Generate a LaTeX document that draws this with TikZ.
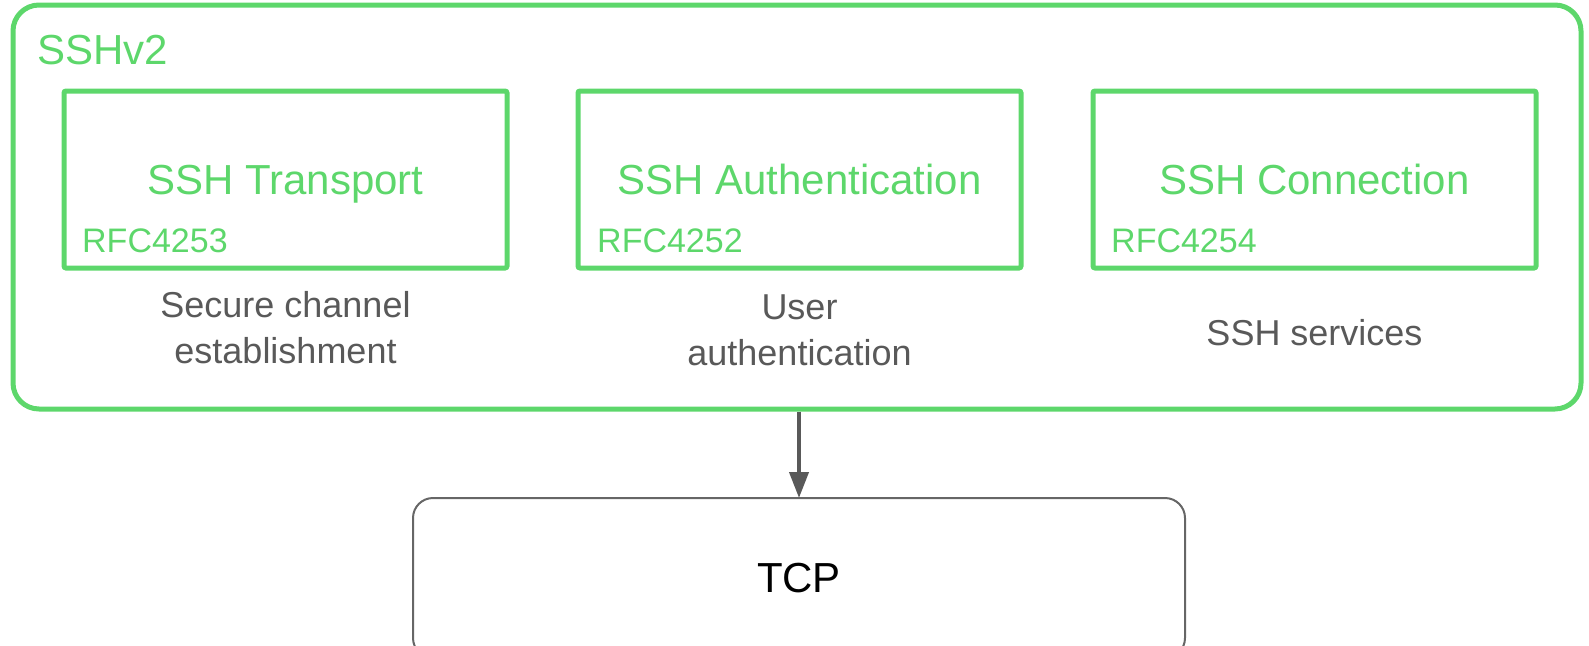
\documentclass[tikz,border=0pt]{standalone}
\usepackage{fontspec}
\setmainfont{Liberation Sans}
\usetikzlibrary{arrows.meta}
\definecolor{sshgreen}{RGB}{93,215,107}
\definecolor{labelgray}{RGB}{89,89,89}
\definecolor{edgegray}{RGB}{102,102,102}
\tikzset{
  outerbox/.style={draw=sshgreen, line width=5pt, rounded corners=26pt, inner sep=0pt, outer sep=0pt,
    minimum width=1568pt, minimum height=404pt, anchor=north west},
  layerbox/.style={draw=sshgreen, line width=5pt, rounded corners=2pt, inner sep=0pt, outer sep=0pt,
    minimum width=443pt, minimum height=177pt, anchor=north west},
  tcpbox/.style={draw=edgegray, line width=2pt, rounded corners=20pt, inner sep=0pt, outer sep=0pt,
    minimum width=772pt, minimum height=160pt, anchor=north west},
  titletext/.style={text=sshgreen, inner sep=0pt, font=\fontsize{42}{50}\selectfont},
  rfctext/.style={text=sshgreen, inner sep=0pt, anchor=base west, font=\fontsize{34}{40}\selectfont},
  desctext/.style={text=labelgray, inner sep=0pt, anchor=base, align=center,
    font=\fontsize{36}{46}\selectfont},
  linkarrow/.style={draw=labelgray, line width=4pt, -{Triangle[length=26pt,width=19pt]}},
}
\begin{document}
\begin{tikzpicture}[x=1pt,y=-1pt]
\useasboundingbox (0,0) rectangle (1589,645);

% SSHv2 container
\node[outerbox] (ssh) at (13,5) {};
\node[titletext, anchor=base west] (sshlbl) at (37,64) {SSHv2};

% protocol layers
\node[layerbox] (transport) at (64,91) {};
\node[layerbox] (auth) at (578,91) {};
\node[layerbox] (conn) at (1093,91) {};

\node[titletext, anchor=base] (transportlbl) at (transport.center |- 0,194) {SSH Transport};
\node[titletext, anchor=base] (authlbl) at (auth.center |- 0,194) {SSH Authentication};
\node[titletext, anchor=base] (connlbl) at (conn.center |- 0,194) {SSH Connection};

\node[rfctext] (rfc1) at (82,252) {RFC4253};
\node[rfctext] (rfc2) at (597,252) {RFC4252};
\node[rfctext] (rfc3) at (1111,252) {RFC4254};

% roles (base anchor sits on the last line)
\node[desctext] (desc1) at (transport.center |- 0,363) {Secure channel\\establishment};
\node[desctext] (desc2) at (auth.center |- 0,365) {User\\authentication};
\node[desctext] (desc3) at (conn.center |- 0,345) {SSH services};

% transport below
\node[tcpbox] (tcp) at (413,498) {};
\node[anchor=base, inner sep=0pt, font=\fontsize{42}{50}\selectfont] (tcplbl) at (tcp.center |- 0,592) {TCP};

\draw[linkarrow] ([yshift=-2.5pt]tcp.north |- ssh.south) -- (tcp.north);
\end{tikzpicture}
\end{document}
